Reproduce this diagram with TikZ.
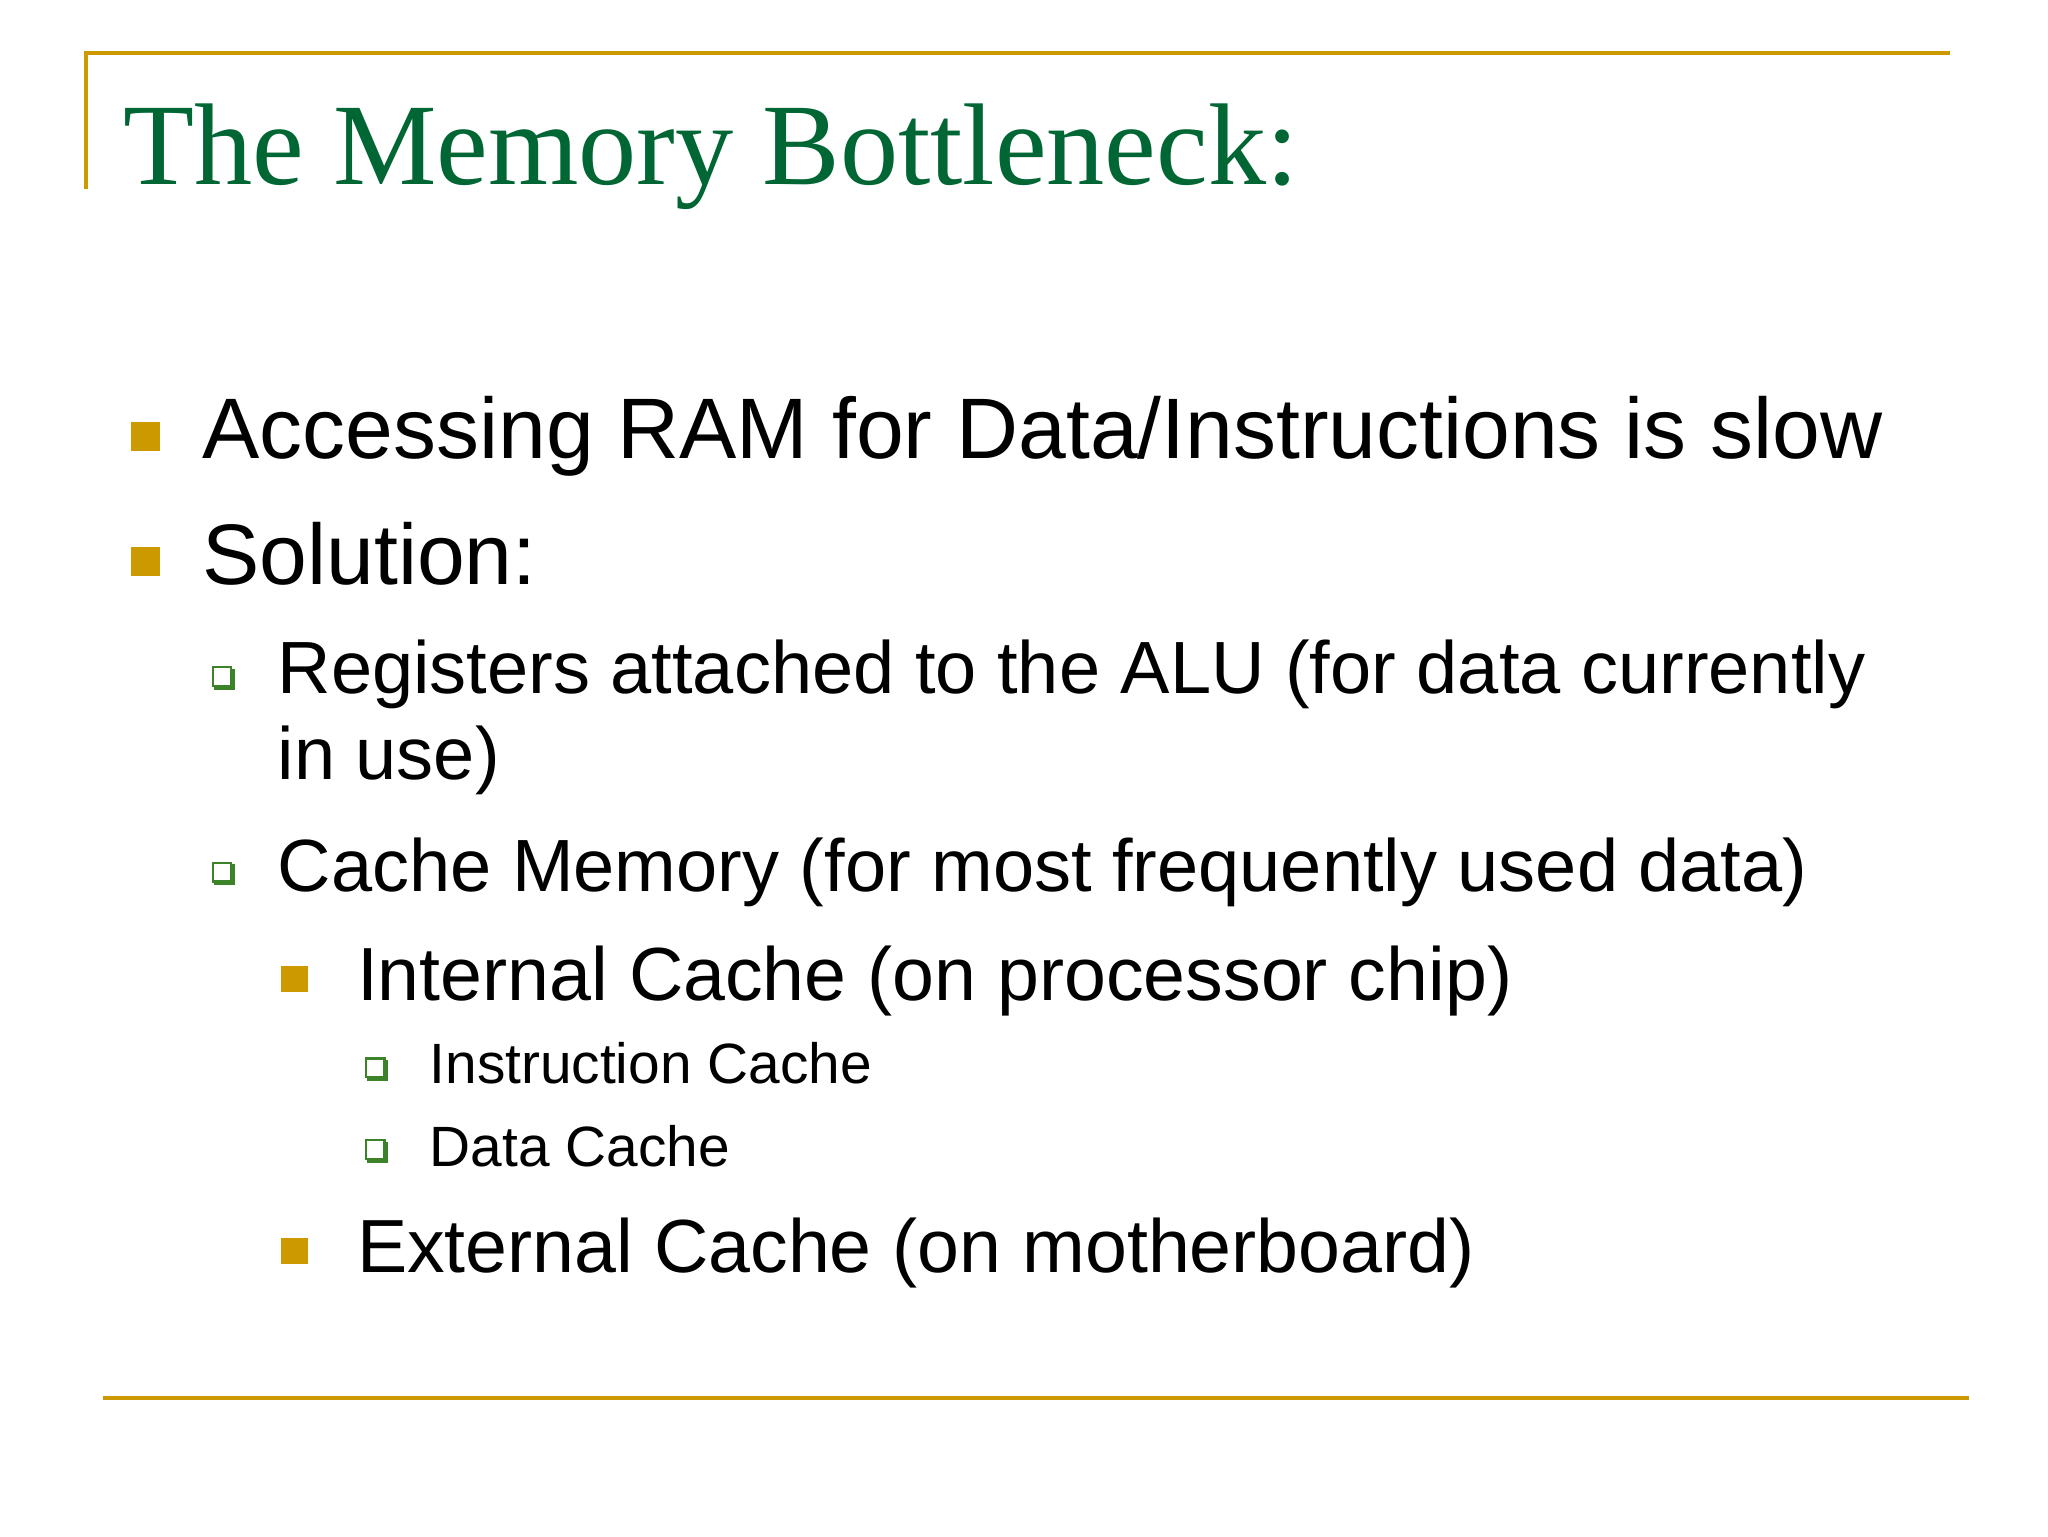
\documentclass[tikz,border=0pt]{standalone}
\usepackage{fontspec}
\setmainfont{Liberation Sans}
\newfontfamily\titlefont{Liberation Serif}
\definecolor{gold}{RGB}{204,153,0}
\definecolor{tgreen}{RGB}{0,102,51}
\definecolor{bgreen}{RGB}{60,130,40}
\begin{document}
\begin{tikzpicture}[x=1pt,y=-1pt,
  txt/.style={anchor=base west,inner sep=0pt},
  gsq/.style={fill=gold,minimum size=22pt,inner sep=0pt},
  hsq/.style={draw=bgreen,line width=1.8pt,fill=white,minimum size=14pt,inner sep=0pt}]
\useasboundingbox (0,0) rectangle (1550,1163);
\draw[gold,line width=3pt] (65,143) -- (65,40) -- (1476,40);
\draw[gold,line width=3pt] (78,1058) -- (1490,1058);
\node[txt,text=tgreen] (title) at (93,140) {\titlefont\fontsize{88}{96}\selectfont The Memory Bottleneck:};
\node[gsq] (b1) at (110,330) {};
\node[txt] (t1) at (153,347) {\fontsize{65}{78}\selectfont Accessing RAM for Data/Instructions is slow};
\node[gsq] (b2) at (110,425) {};
\node[txt] (t2) at (153,442) {\fontsize{65}{78}\selectfont Solution:};
\foreach \n/\x/\y in {s1/168/512,s2/168/660,s3/284/808,s4/284/870}{
  \fill[bgreen] (\x-6,\y-6) rectangle (\x+10,\y+10);
  \node[hsq] (\n) at (\x,\y) {};
}
\node[txt] (t3) at (210,525) {\fontsize{56}{68}\selectfont Registers attached to the ALU (for data currently};
\node[txt] (t3b) at (210,590) {\fontsize{56}{68}\selectfont in use)};
\node[txt] (t4) at (210,675) {\fontsize{56}{68}\selectfont Cache Memory (for most frequently used data)};
\node[gsq,minimum size=20pt] (b3) at (223,741) {};
\node[txt] (t5) at (270,757) {\fontsize{57}{68}\selectfont Internal Cache (on processor chip)};
\node[txt] (t6) at (325,820) {\fontsize{43}{52}\selectfont Instruction Cache};
\node[txt] (t7) at (325,883) {\fontsize{43}{52}\selectfont Data Cache};
\node[gsq,minimum size=20pt] (b4) at (223,947) {};
\node[txt] (t8) at (270,963) {\fontsize{57}{68}\selectfont External Cache (on motherboard)};
\end{tikzpicture}
\end{document}
